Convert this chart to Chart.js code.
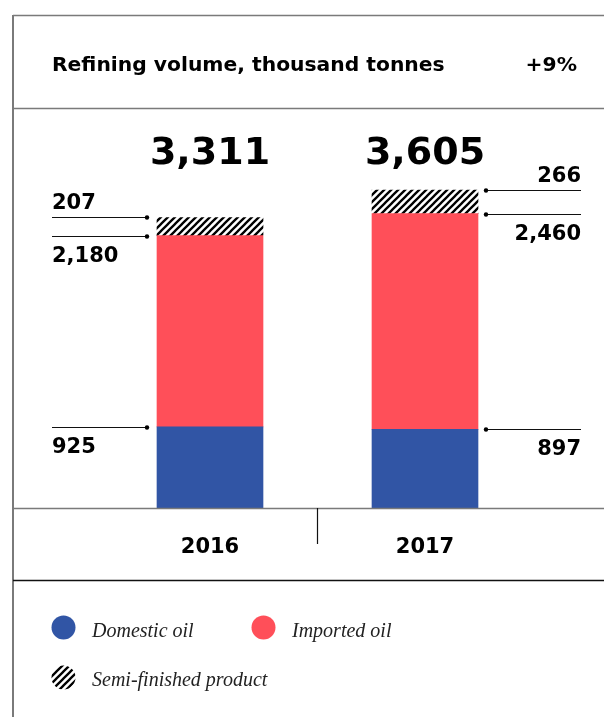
<!DOCTYPE html>
<html>
<head>
<meta charset="utf-8">
<script src="https://cdn.jsdelivr.net/npm/chart.js@4.4.1/dist/chart.umd.min.js"></script>
<style>
  html, body { margin: 0; padding: 0; background: #fff; }
  #cardCanvas { display: block; }
</style>
</head>
<body>
<canvas id="cardCanvas" width="604" height="717"></canvas>
<script>
// chart data
const years = ["2016", "2017"];
const domestic = [925, 897];
const imported = [2180, 2460];
const semi = [207, 266];
const totals = [3311, 3605];
const seriesNames = ["Domestic oil", "Imported oil", "Semi-finished product"];
const chartTitle = "Refining volume, thousand tonnes";
const growthLabel = "+9%";

const BLUE = "#3155a5";
const RED = "#ff4f59";
const NUM_FONT = "DejaVu Sans";

// stripes for the semi-finished part
function makeHatch() {
    const c = document.createElement("canvas");
    c.width = 7; c.height = 7;
    const g = c.getContext("2d");
    g.strokeStyle = "#000";
    g.lineWidth = 2.3;
    g.beginPath();
    g.moveTo(-1, 8); g.lineTo(8, -1);
    g.moveTo(-1, 1); g.lineTo(1, -1);
    g.moveTo(6, 8); g.lineTo(8, 6);
    g.stroke();
    return g.createPattern(c, "repeat");
}
const hatch = makeHatch();

function fmt(v) {
    return v.toLocaleString("en-US");
}

// frame, title, leader lines, totals, legend
const decorPlugin = {
    id: "decor",
    afterDraw(chart) {
        const ctx = chart.ctx;
        const x = chart.scales.x;
        const base = chart.chartArea.bottom;
        ctx.save();

        // frame lines
        ctx.strokeStyle = "#7a7a7a";
        ctx.lineWidth = 2;
        ctx.beginPath();
        ctx.moveTo(13, 15); ctx.lineTo(13, 717);
        ctx.stroke();
        ctx.lineWidth = 1.5;
        ctx.beginPath();
        ctx.moveTo(13, 15.5); ctx.lineTo(604, 15.5);
        ctx.moveTo(13, 108.5); ctx.lineTo(604, 108.5);
        ctx.moveTo(13, base + 0.5); ctx.lineTo(604, base + 0.5);
        ctx.stroke();
        ctx.strokeStyle = "#111";
        ctx.beginPath();
        ctx.moveTo(13, 580.5); ctx.lineTo(604, 580.5);
        ctx.stroke();

        // divider between years
        const mid = (x.getPixelForValue(0) + x.getPixelForValue(1)) / 2;
        ctx.lineWidth = 1.2;
        ctx.beginPath();
        ctx.moveTo(mid, base); ctx.lineTo(mid, 544);
        ctx.stroke();

        // title
        ctx.fillStyle = "#000";
        ctx.textBaseline = "alphabetic";
        ctx.font = "bold 20.3px '" + NUM_FONT + "'";
        ctx.textAlign = "left";
        ctx.fillText(chartTitle, 52, 71);
        ctx.textAlign = "right";
        ctx.fillText(growthLabel, 577, 71);

        // totals above bars
        ctx.font = "bold 38px '" + NUM_FONT + "'";
        ctx.textAlign = "center";
        years.forEach((y, i) => {
            ctx.fillText(fmt(totals[i]), x.getPixelForValue(i), 164);
        });

        // leader lines with values
        ctx.font = "bold 21px '" + NUM_FONT + "'";
        ctx.lineWidth = 1.2;
        ctx.strokeStyle = "#111";
        const metas = [0, 1, 2].map(d => chart.getDatasetMeta(d));
        const series = [domestic, imported, semi];
        years.forEach((y, i) => {
            const bar = metas[0].data[i];
            const left = bar.x - bar.width / 2;
            const right = bar.x + bar.width / 2;
            const isLeft = i === 0;
            const x0 = isLeft ? 52 : right + 8;
            const x1 = isLeft ? left - 10 : 581;
            const dotX = isLeft ? x1 : x0;
            // boundaries: top of semi, semi/imported, imported/domestic
            const rows = [
                { y: metas[2].data[i].y, val: series[2][i], above: true },
                { y: metas[1].data[i].y, val: series[1][i], above: false },
                { y: metas[0].data[i].y, val: series[0][i], above: false }
            ];
            rows.forEach(r => {
                const ly = Math.round(r.y) + 0.5;
                ctx.beginPath();
                ctx.moveTo(x0, ly); ctx.lineTo(x1, ly);
                ctx.stroke();
                ctx.beginPath();
                ctx.arc(dotX, ly, 2.2, 0, Math.PI * 2);
                ctx.fill();
                ctx.textAlign = isLeft ? "left" : "right";
                const tx = isLeft ? 52 : 581;
                ctx.fillText(fmt(r.val), tx, r.above ? ly - 9 : ly + 25);
            });
        });

        // legend
        ctx.font = "italic 20px 'Liberation Serif'";
        ctx.textAlign = "left";
        ctx.fillStyle = BLUE;
        ctx.beginPath(); ctx.arc(63.5, 627.5, 12, 0, Math.PI * 2); ctx.fill();
        ctx.fillStyle = RED;
        ctx.beginPath(); ctx.arc(263.5, 627.5, 12, 0, Math.PI * 2); ctx.fill();
        ctx.save();
        ctx.beginPath(); ctx.arc(63.5, 677.5, 12, 0, Math.PI * 2); ctx.clip();
        ctx.fillStyle = hatch;
        ctx.fillRect(50, 664, 28, 28);
        ctx.restore();
        ctx.fillStyle = "#222";
        ctx.fillText(seriesNames[0], 92, 637);
        ctx.fillText(seriesNames[1], 292, 637);
        ctx.fillText(seriesNames[2], 92, 686);

        ctx.restore();
    }
};

const barChart = new Chart(document.getElementById("cardCanvas"), {
    type: "bar",
    data: {
        labels: years,
        datasets: [
            { label: seriesNames[0], data: domestic, backgroundColor: BLUE },
            { label: seriesNames[1], data: imported, backgroundColor: RED },
            { label: seriesNames[2], data: semi, backgroundColor: hatch }
        ]
    },
    options: {
        responsive: false,
        animation: false,
        layout: { padding: { left: 102.5, right: 71.5, top: 108, bottom: 137 } },
        datasets: { bar: { barThickness: 106 } },
        plugins: { legend: { display: false }, tooltip: { enabled: false } },
        scales: {
            x: {
                stacked: true,
                grid: { display: false, drawTicks: false },
                border: { display: false },
                ticks: {
                    color: "#000",
                    padding: 27,
                    font: { family: NUM_FONT, size: 21, weight: "bold" }
                },
                afterFit(scale) { scale.height = 72; }
            },
            y: {
                stacked: true,
                display: false,
                min: 0,
                max: 4560
            }
        }
    },
    plugins: [decorPlugin]
});
</script>
</body>
</html>
